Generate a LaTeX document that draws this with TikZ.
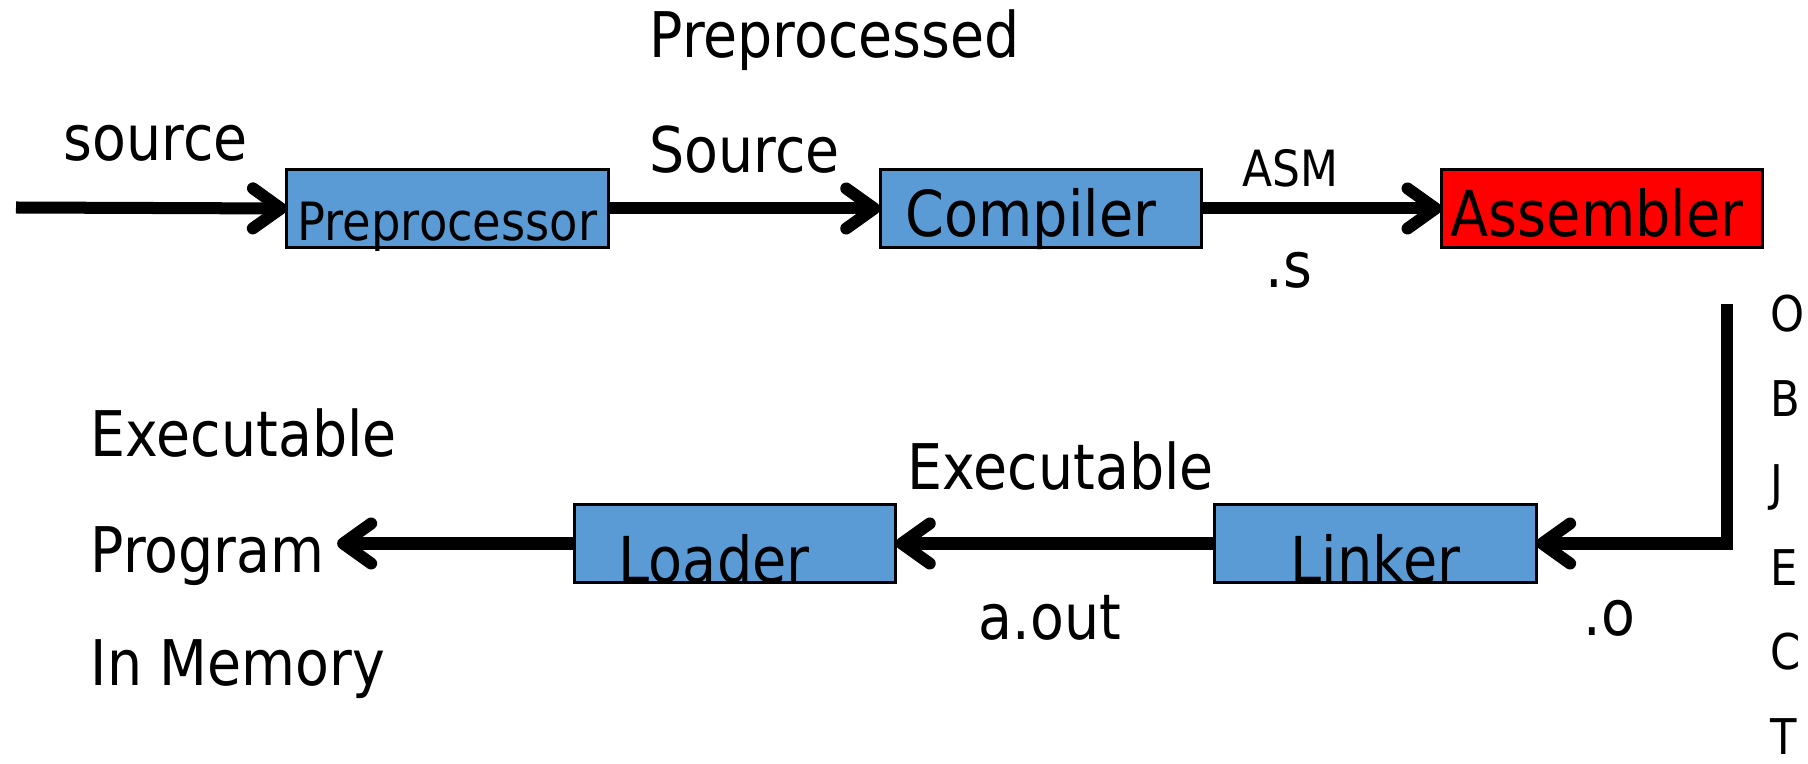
\documentclass[tikz,border=0pt]{standalone}
\usepackage{fontspec}
\setmainfont{DejaVu Sans}[FakeStretch=0.88]
\usepackage{tikz}
\usetikzlibrary{positioning, arrows.meta}
\definecolor{stageblue}{RGB}{91,155,213}

\begin{document}
\begin{tikzpicture}[
          x=0.01cm, y=-0.01cm,
          stage/.style={draw, line width=0.85pt, fill=stageblue, inner sep=0pt, outer sep=0pt,
            minimum width=3.21cm, minimum height=0.77cm,
            font=\fontsize{18pt}{20pt}\selectfont},
          lbl/.style={inner sep=0pt, anchor=base west, font=\fontsize{17.9pt}{20pt}\selectfont},
          small/.style={lbl, font=\fontsize{14pt}{16pt}\selectfont},
          flow/.style={line width=0.12cm, -{Straight Barb[length=0.28cm, width=0.4cm, round]}},
          node distance=2.72cm
        ]
        \useasboundingbox (0,0) rectangle (1808,764);
        \node[stage, text height=0.70cm, text depth=0.07cm,
          font=\fontsize{15pt}{17pt}\selectfont] (pre) at (447.5,208.5) {Preprocessor};
        \node[stage, text height=0.66cm, text depth=0.11cm] (comp) [right=of pre] {Compiler\hspace*{0.2cm}};
        \node[stage, fill=red, text height=0.66cm, text depth=0.11cm] (asm) [right=2.40cm of comp] {Assembler\hspace*{0.1cm}};
        \node[stage, text height=0.78cm, text depth=-0.01cm] (link) at (1375.5,543.5) {Linker};
        \node[stage, text height=0.78cm, text depth=-0.01cm] (load) [left=3.19cm of link] {Loader\hspace*{0.42cm}};
        \node[lbl] (srclbl) at (63,161) {source};
        \node[lbl] (ppslbl) at (649,58) {Preprocessed};
        \node[lbl] (ppsrc) at (649,173) {Source};
        \node[small, font=\fontsize{14.2pt}{16pt}\selectfont] (asmlbl) at (1242,187) {ASM};
        \node[lbl] (slbl) at (1265,288) {.s};
        \foreach \ch [count=\i from 0] in {O,B,J,E,C,T}
          \node[small] (obj\i) at (1770,{332+84.5*\i}) {\ch};
        \node[lbl] (olbl) at (1583,636) {.o};
        \node[lbl] (exelbl) at (907,490) {Executable};
        \node[lbl] (aout) at (978,640) {a.out};
        \node[lbl] (exe) at (90,457) {Executable};
        \node[lbl, inner xsep=0.12cm] (prog) at (78,573) {Program};
        \node[lbl] (mem) at (90,686) {In Memory};
        \coordinate (start) at (16,207.5);
        \coordinate (objtop) at (1727,304);
        \draw[flow] (start) -- (pre.west);
        \draw[flow] (pre) -- (comp);
        \draw[flow] (comp) -- (asm);
        \draw[flow, line join=miter] (objtop) |- (link.east);
        \draw[flow] (link) -- (load);
        \draw[flow] (load) -- (load.west -| prog.east);
      \end{tikzpicture}
\end{document}
